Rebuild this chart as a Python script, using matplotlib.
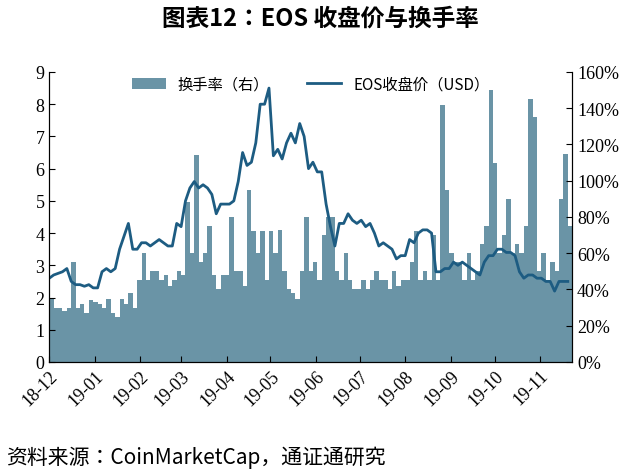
import numpy as np
import pandas as pd
import matplotlib
matplotlib.use("Agg")
import matplotlib.pyplot as plt
import matplotlib.dates as mdates
from matplotlib import font_manager as fm

plt.rcParams["font.family"] = ["Liberation Serif"]
names = sorted({f.name for f in fm.fontManager.ttflist})
cjk_names = [n for n in names if "CJK" in n]
CJK = next((n for n in cjk_names if "SC" in n), cjk_names[0] if cjk_names else "DejaVu Sans")

# EOS close (USD), roughly every 3 days from 2018-12-01
price = [2.6, 2.7, 2.75, 2.8, 2.9, 2.5, 2.4, 2.4, 2.35, 2.4,
         2.3, 2.3, 2.8, 2.9, 2.8, 2.9, 3.5, 3.9, 4.3, 3.5,
         3.5, 3.7, 3.7, 3.6, 3.7, 3.8, 3.7, 3.6, 3.6, 4.3,
         4.2, 5.0, 5.4, 5.6, 5.4, 5.5, 5.4, 5.2, 4.6, 4.9,
         4.9, 4.9, 5.0, 5.6, 6.5, 6.1, 6.2, 6.8, 8.0, 8.0,
         8.5, 6.4, 6.6, 6.3, 6.8, 7.1, 6.8, 7.4, 7.0, 6.0,
         6.2, 5.9, 5.9, 4.9, 4.2, 3.6, 4.3, 4.3, 4.6, 4.4,
         4.3, 4.4, 4.2, 4.3, 4.0, 3.6, 3.7, 3.6, 3.5, 3.2,
         3.3, 3.3, 3.8, 3.7, 4.0, 4.1, 4.1, 4.0, 2.8, 2.8,
         2.9, 2.9, 3.1, 3.0, 3.1, 3.0, 2.9, 2.8, 2.7, 3.1,
         3.3, 3.3, 3.5, 3.5, 3.4, 3.4, 3.3, 2.8, 2.6, 2.7,
         2.7, 2.6, 2.6, 2.5, 2.5, 2.2, 2.5, 2.5, 2.5]

# turnover rate (%)
turnover = [35, 30, 30, 28, 30, 55, 30, 32, 27, 34,
            33, 32, 30, 35, 27, 25, 35, 32, 38, 30,
            45, 60, 45, 50, 50, 45, 48, 42, 45, 50,
            48, 88, 60, 114, 55, 60, 75, 48, 40, 48,
            48, 80, 50, 50, 42, 95, 72, 60, 72, 45,
            72, 60, 73, 50, 40, 38, 35, 50, 80, 50,
            55, 45, 70, 80, 80, 50, 45, 60, 45, 40,
            40, 45, 40, 45, 50, 45, 45, 40, 50, 42,
            45, 45, 55, 72, 45, 50, 45, 70, 45, 142,
            95, 60, 55, 55, 45, 60, 45, 50, 65, 75,
            150, 110, 60, 70, 90, 60, 65, 60, 75, 145,
            135, 50, 60, 45, 55, 50, 90, 115, 75]

dates = pd.date_range("2018-12-01", periods=len(price), freq="3D")
ticks = pd.date_range("2018-12-01", "2019-11-01", freq="MS")

bar_c = "#6a94a6"
line_c = "#1d5c82"

fig = plt.figure(figsize=(6.4, 4.77), dpi=100)
ax = fig.add_axes([0.077, 0.239, 0.817, 0.608])
ax2 = ax.twinx()
ax.set_zorder(2)
ax.patch.set_visible(False)

ax2.bar(dates, turnover, width=3.0, align="edge", color=bar_c, linewidth=0, label="换手率（右）")
ax.plot(dates, price, color=line_c, lw=2, label="EOS收盘价（USD）")

ax.set_xlim(dates[0], dates[-1] + pd.Timedelta(days=3))
ax.set_ylim(0, 9)
ax.set_yticks(range(10))
ax2.set_ylim(0, 160)
ax2.set_yticks(range(0, 161, 20))
ax2.set_yticklabels([f"{v}%" for v in range(0, 161, 20)])
ax.set_xticks(ticks)
ax.xaxis.set_major_formatter(mdates.DateFormatter("%y-%m"))
plt.setp(ax.get_xticklabels(), rotation=45, ha="right", rotation_mode="anchor")
for a in (ax, ax2):
    a.tick_params(labelsize=13, direction="in", length=4)
    a.spines["top"].set_visible(False)

h1, l1 = ax2.get_legend_handles_labels()
h2, l2 = ax.get_legend_handles_labels()
ax.legend(h1 + h2, l1 + l2, loc="upper center", ncol=2, frameon=False,
          prop={"family": CJK, "size": 11}, bbox_to_anchor=(0.5, 1.035),
          handlelength=2.2, columnspacing=2.5)

fig.text(0.5, 0.962, "图表12：EOS 收盘价与换手率", ha="center", va="center",
         fontsize=17, fontweight="bold", family=CJK)
fig.text(0.01, 0.04, "资料来源：CoinMarketCap，通证通研究", ha="left", va="center",
         fontsize=15, style="italic", family=CJK)

fig.savefig("out.png", dpi=100)
